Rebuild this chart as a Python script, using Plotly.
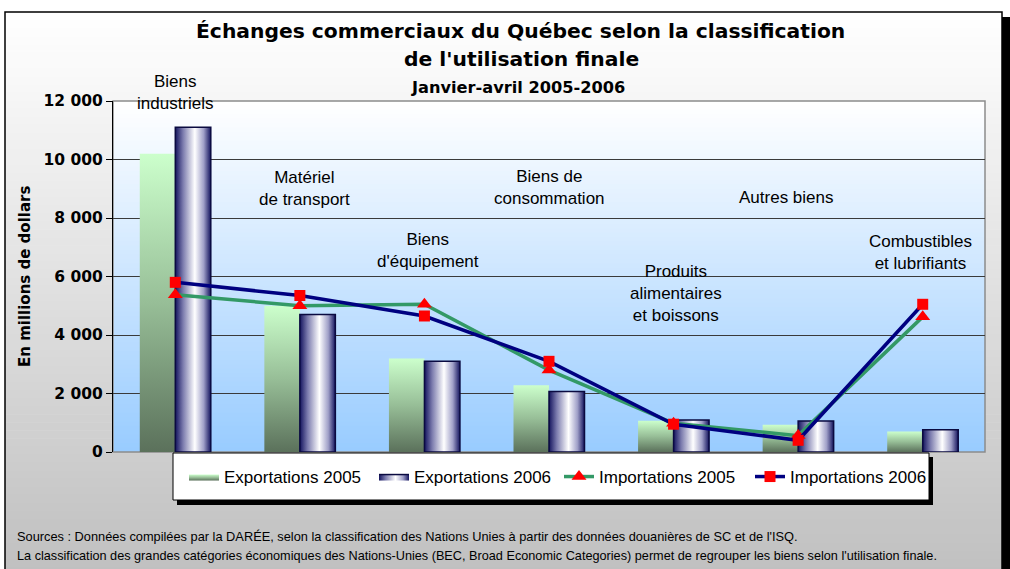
import plotly.graph_objects as go

# ---------------- data ----------------
categories = ["Biens industriels", "Matériel de transport", "Biens d'équipement",
              "Biens de consommation", "Produits alimentaires et boissons",
              "Autres biens", "Combustibles et lubrifiants"]
category_labels = ["Biens<br>industriels", "Matériel<br>de transport", "Biens<br>d'équipement",
                   "Biens de<br>consommation", "Produits<br>alimentaires<br>et boissons",
                   "Autres biens", "Combustibles<br>et lubrifiants"]
exports_2005 = [10200, 5000, 3200, 2280, 1070, 930, 700]
exports_2006 = [11100, 4700, 3100, 2070, 1090, 1060, 760]
imports_2005 = [5380, 5000, 5050, 2800, 980, 560, 4620]
imports_2006 = [5800, 5350, 4650, 3100, 950, 400, 5050]
y_ticks = [0, 2000, 4000, 6000, 8000, 10000, 12000]
y_tick_labels = ["0", "2 000", "4 000", "6 000", "8 000", "10 000", "12 000"]
series_names = ["Exportations 2005", "Exportations 2006", "Importations 2005", "Importations 2006"]

title_1 = "Échanges commerciaux du Québec selon la classification"
title_2 = "de l'utilisation finale"
title_3 = "Janvier-avril 2005-2006"
y_title = "En millions de dollars"
note_1 = "Sources : Données compilées par la DARÉE, selon la classification des Nations Unies à partir des données douanières de SC et de l'ISQ."
note_2 = "La classification des grandes catégories économiques des Nations-Unies (BEC, Broad Economic Categories) permet de regrouper les biens selon l'utilisation finale."

# ---------------- layout geometry (styling) ----------------
W, H = 1010, 569
L, R, T, B = 113, 25, 101, 117
PW, PH = W - L - R, H - T - B
Y_MAX = 12000
BAR_W = 0.285
label_y = [12280, 9000, 6900, 9050, 5420, 8710, 6820]
label_dx = [0.0, 0.04, 0.03, 0.0, 0.02, -0.09, -0.02]

def px(x):
    return (x - L) / PW

def py(y):
    return (H - B - y) / PH

LABEL_FONT = "Liberation Sans, Arial, sans-serif"
BOLD_FONT = "DejaVu Sans, Verdana, sans-serif"

green_scale = [[0, "#5B715B"], [0.5, "#97BE97"], [1, "#CCFFCC"]]
cyl_scale = [[0, "#14145E"], [0.22, "#7C7CAE"], [0.55, "#FFFFFF"], [0.8, "#A0A0C8"], [1, "#14145E"]]

fig = go.Figure()

# bars (drawn as filled polygons so each can carry its gradient)
for i, v in enumerate(exports_2005):
    fig.add_trace(go.Scatter(
        x=[i - BAR_W, i - BAR_W, i, i, i - BAR_W], y=[0, v, v, 0, 0],
        mode="lines", fill="toself", line=dict(width=0, color="#97BE97"),
        fillcolor="#97BE97",
        fillgradient=dict(type="vertical", colorscale=green_scale),
        name=series_names[0], legend="legend", legendgroup="e05",
        showlegend=(i == 0), hoverinfo="skip"))
for i, v in enumerate(exports_2006):
    fig.add_trace(go.Scatter(
        x=[i, i, i + BAR_W, i + BAR_W, i], y=[0, v, v, 0, 0],
        mode="lines", fill="toself", line=dict(width=1.5, color="#0A0A40"),
        fillcolor="#C0C0DC",
        fillgradient=dict(type="horizontal", colorscale=cyl_scale),
        name=series_names[1], legend="legend2", legendgroup="e06",
        showlegend=(i == 0), hoverinfo="skip"))

x_idx = list(range(len(categories)))
fig.add_trace(go.Scatter(
    x=x_idx, y=imports_2005, mode="lines+markers", name=series_names[2],
    line=dict(color="#339966", width=3.5),
    marker=dict(symbol="triangle-up", size=13, color="#FF0000", line=dict(width=0)),
    legend="legend3"))
fig.add_trace(go.Scatter(
    x=x_idx, y=imports_2006, mode="lines+markers", name=series_names[3],
    line=dict(color="#000080", width=3.5),
    marker=dict(symbol="square", size=11, color="#FF0000", line=dict(width=0)),
    legend="legend4"))

shapes = []
# chart-area gradient (white -> grey) inside frame
N = 70
fx0, fx1, fy0, fy1 = 5, 1002, 12, 575
for k in range(N):
    t = k / (N - 1)
    c = int(round(255 - (255 - 192) * t))
    y0 = fy0 + (fy1 - fy0) * k / N
    y1 = fy0 + (fy1 - fy0) * (k + 1) / N + 0.6
    shapes.append(dict(type="rect", xref="paper", yref="paper", layer="below",
                       x0=px(fx0), x1=px(fx1), y0=py(y0), y1=py(y1),
                       fillcolor=f"rgb({c},{c},{c})", line=dict(width=0)))
# shadow right and frame
shapes.append(dict(type="rect", xref="paper", yref="paper", layer="below",
                   x0=px(1002), x1=px(1010), y0=py(17), y1=py(575),
                   fillcolor="black", line=dict(width=0)))
shapes.append(dict(type="rect", xref="paper", yref="paper", layer="below",
                   x0=px(5), x1=px(1002), y0=py(12), y1=py(575),
                   fillcolor="rgba(0,0,0,0)", line=dict(width=1.5, color="black")))
# plot-area gradient (white -> light blue)
M = 80
for k in range(M):
    t = k / (M - 1)
    r = int(round(255 - (255 - 153) * t))
    g = int(round(255 - (255 - 204) * t))
    y1 = 1 - k / M
    y0 = 1 - (k + 1) / M - 0.003
    shapes.append(dict(type="rect", xref="x domain", yref="y domain", layer="below",
                       x0=0, x1=1, y0=max(y0, 0), y1=y1,
                       fillcolor=f"rgb({r},{g},255)", line=dict(width=0)))
shapes.append(dict(type="rect", xref="x domain", yref="y domain", layer="below",
                   x0=0, x1=1, y0=0, y1=1, fillcolor="rgba(0,0,0,0)",
                   line=dict(width=1.5, color="#8C8C8C")))
# legend box with shadow
shapes.append(dict(type="rect", xref="paper", yref="paper", layer="below",
                   x0=px(177), x1=px(933), y0=py(457), y1=py(505),
                   fillcolor="black", line=dict(width=0)))
shapes.append(dict(type="rect", xref="paper", yref="paper", layer="below",
                   x0=px(173), x1=px(929), y0=py(453), y1=py(500),
                   fillcolor="white", line=dict(width=1, color="black")))

annotations = []
for i, lab in enumerate(category_labels):
    annotations.append(dict(x=i + label_dx[i], y=label_y[i] / Y_MAX, xref="x", yref="paper",
                            text=lab, showarrow=False, xanchor="center", yanchor="middle",
                            font=dict(family=LABEL_FONT, size=17, color="black"),
                            align="center"))
annotations += [
    dict(x=px(520), y=py(31), xref="paper", yref="paper", text=title_1, showarrow=False,
         xanchor="center", yanchor="middle",
         font=dict(family=BOLD_FONT, size=20.3, color="black", weight="bold")),
    dict(x=px(521), y=py(59), xref="paper", yref="paper", text=title_2, showarrow=False,
         xanchor="center", yanchor="middle",
         font=dict(family=BOLD_FONT, size=20.3, color="black", weight="bold")),
    dict(x=px(518), y=py(87), xref="paper", yref="paper", text=title_3, showarrow=False,
         xanchor="center", yanchor="middle",
         font=dict(family=BOLD_FONT, size=16.2, color="black", weight="bold")),
    dict(x=px(25), y=py(277), xref="paper", yref="paper", text=y_title, showarrow=False,
         textangle=-90, xanchor="center", yanchor="middle",
         font=dict(family=BOLD_FONT, size=15, color="black", weight="bold")),
    dict(x=px(15), y=py(536), xref="paper", yref="paper", text=note_1, showarrow=False,
         xanchor="left", yanchor="middle",
         font=dict(family=LABEL_FONT, size=12.8, color="black")),
    dict(x=px(15), y=py(556), xref="paper", yref="paper", text=note_2, showarrow=False,
         xanchor="left", yanchor="middle",
         font=dict(family=LABEL_FONT, size=12.7, color="black")),
]

leg_common = dict(orientation="h", yanchor="middle", xanchor="left", y=py(477),
                  bgcolor="rgba(0,0,0,0)", borderwidth=0,
                  font=dict(family=LABEL_FONT, size=17, color="black"))
legend_x = [184, 374, 559, 750]

fig.update_layout(
    width=W, height=H,
    margin=dict(l=L, r=R, t=T, b=B, autoexpand=False),
    paper_bgcolor="white", plot_bgcolor="rgba(0,0,0,0)",
    showlegend=True,
    legend=dict(x=px(legend_x[0]), **leg_common),
    legend2=dict(x=px(legend_x[1]), **leg_common),
    legend3=dict(x=px(legend_x[2]), **leg_common),
    legend4=dict(x=px(legend_x[3]), **leg_common),
    xaxis=dict(range=[-0.5, len(categories) - 0.5], showticklabels=False, ticks="",
               showgrid=False, zeroline=False, showline=False, fixedrange=True),
    yaxis=dict(range=[0, Y_MAX], tickvals=y_ticks, ticktext=y_tick_labels,
               ticks="outside", ticklen=6, tickcolor="black", tickwidth=1,
               showgrid=True, gridcolor="#3A3A3A", gridwidth=1, zeroline=False,
               showline=True, linecolor="black", linewidth=1.2,
               tickfont=dict(family=BOLD_FONT, size=15.5, color="black", weight="bold"),
               fixedrange=True),
    shapes=shapes, annotations=annotations,
)

fig.write_html("out.html", config={"displayModeBar": False, "staticPlot": False},
               post_script="document.body.style.margin='0';document.body.style.overflow='hidden';")
